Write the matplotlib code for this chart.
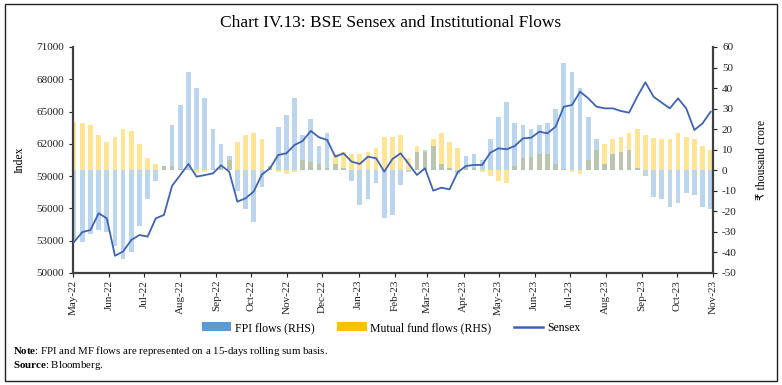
import matplotlib
matplotlib.use("Agg")
import matplotlib.pyplot as plt
import matplotlib.dates as mdates
from matplotlib.patches import Patch, Rectangle
from matplotlib.lines import Line2D
import pandas as pd

# ---- data (weekly readings) ----
dates = pd.date_range("2022-05-02", periods=79, freq="7D")

sensex = [52900, 53800, 54000, 55550, 55080, 51600, 52000, 53070, 53530, 53380,
          55080, 55390, 58100, 59100, 60130, 58950, 59100, 59260, 60000, 59420,
          56630, 56940, 57560, 59150, 59730, 60965, 61120, 61890, 62270, 63200,
          62610, 62360, 60810, 61120, 60350, 60130, 60810, 60660, 59420, 60590,
          61120, 60130, 59110, 59730, 57650, 57930, 57770, 59360, 59940, 60040,
          60040, 61180, 61585, 61500, 61800, 62510, 62570, 63130, 62980, 63600,
          65450, 65610, 66850, 66230, 65460, 65300, 65300, 65050, 64900, 66380,
          67720, 66380, 65830, 65300, 66230, 65300, 63290, 63900, 64990]

fpi = [-34, -35, -31, -29, -30, -37, -43, -40, -27, -14,
       -5, 2, 22, 32, 48, 40, 35, 20, 13, 7,
       -10, -19, -25, -8, 2, 21, 27, 35, 17, 25,
       12, 18, 3, 1, -5, -17, -14, -6, -23, -22,
       -7, -1, 9, 10, 12, 3, 1, -2, 7, 8,
       5, 15, 26, 33, 23, 22, 20, 22, 23, 30,
       52, 48, 40, 26, 15, 3, 8, 9, 10, 1,
       -3, -13, -14, -18, -16, -11, -12, -18, -19]

mf = [23.5, 23, 22, 17, 14, 16, 20, 19, 13, 6,
      3, 2, 2, 0.5, 0.5, -1.5, -1, 0.5, 1, 5,
      14, 17, 18, 15, 2, -1, -2, -1, 5, 4,
      3, 1, 8, 9, 8, 8, 9, 11, 16, 16,
      17, 6, 12, 9, 15, 18, 14, 11, 2, 1,
      -1, -3, -5, -6, 2, 6, 6.5, 8, 8, 3,
      0.5, -1, -2, 5, 10, 13, 15, 16, 18, 20,
      17, 15.5, 15, 15, 18, 16, 15, 12, 10]

left_ticks = list(range(50000, 71001, 3000))
right_ticks = list(range(-50, 61, 10))

title = "Chart IV.13: BSE Sensex and Institutional Flows"
legend_labels = ["FPI flows (RHS)", "Mutual fund flows (RHS)", "Sensex"]

# ---- styling ----
C_FPI = "#5B9BD5"
C_MF = "#FFC000"
C_LINE = "#3F63B5"
C_AX = "#404040"
FONT = "Liberation Serif"
plt.rcParams["font.family"] = [FONT, "DejaVu Serif"]
plt.rcParams["axes.unicode_minus"] = False
plt.rcParams["mathtext.fontset"] = "custom"
plt.rcParams["mathtext.rm"] = FONT
plt.rcParams["mathtext.bf"] = FONT + ":bold"

fig = plt.figure(figsize=(7.82, 3.85), dpi=100)
fig.patches.append(Rectangle((5 / 782, 4 / 385), 772 / 782, 377 / 385,
                             transform=fig.transFigure, fill=False,
                             edgecolor="#222222", linewidth=1.0))

ax = fig.add_axes([73 / 782, 1 - 273 / 385, 640 / 782, 226 / 385])
ax2 = ax.twinx()

ax2.bar(dates, mf, width=4, color=C_MF, alpha=0.42, linewidth=0, zorder=1)
ax2.bar(dates, fpi, width=4, color=C_FPI, alpha=0.42, linewidth=0, zorder=2)
ax.plot(dates, sensex, color=C_LINE, linewidth=1.3, zorder=5)

ax.set_zorder(ax2.get_zorder() + 1)
ax.patch.set_visible(False)

ax.set_ylim(50000, 71000)
ax.set_yticks(left_ticks)
ax2.set_ylim(-50, 60)
ax2.set_yticks(right_ticks)
ax.set_xlim(pd.Timestamp("2022-05-01"), pd.Timestamp("2023-11-01"))
ax.xaxis.set_major_locator(mdates.MonthLocator())
ax.xaxis.set_major_formatter(mdates.DateFormatter("%b-%y"))
for lab in ax.get_xticklabels():
    lab.set_rotation(90)

for a in (ax, ax2):
    a.spines["top"].set_visible(False)
    for s in ("left", "right", "bottom"):
        a.spines[s].set_color(C_AX)
        a.spines[s].set_linewidth(1.6)
    a.tick_params(colors="#222222", labelsize=8, length=3, width=0.8, direction="out")
ax.spines["right"].set_visible(False)
ax2.spines["left"].set_visible(False)
ax2.spines["bottom"].set_visible(False)
ax.tick_params(axis="x", pad=2)

ax.set_ylabel("Index", fontsize=8.5, labelpad=8)
ax2.set_ylabel("₹ thousand crore", fontsize=8.5, rotation=90, labelpad=14,
               family=[FONT, "DejaVu Sans"])

fig.text(0.5, 1 - 23 / 385, title, ha="center", va="center", fontsize=12.5)

handles = [Patch(facecolor=C_FPI, edgecolor="none"),
           Patch(facecolor=C_MF, edgecolor="none"),
           Line2D([0], [0], color=C_LINE, linewidth=1.8)]
fig.legend(handles, legend_labels,
           loc="center", bbox_to_anchor=(0.5, 1 - 328 / 385), ncol=3,
           frameon=False, fontsize=8.5, handlelength=2.5, handleheight=0.8,
           columnspacing=1.9, handletextpad=0.3)

fig.text(13 / 782, 1 - 351 / 385,
         r"$\bf{Note}$: FPI and MF flows are represented on a 15-days rolling sum basis.",
         fontsize=7.8, va="center", ha="left")
fig.text(13 / 782, 1 - 365 / 385, r"$\bf{Source}$: Bloomberg.",
         fontsize=7.8, va="center", ha="left")

fig.savefig("out.png", dpi=100)
